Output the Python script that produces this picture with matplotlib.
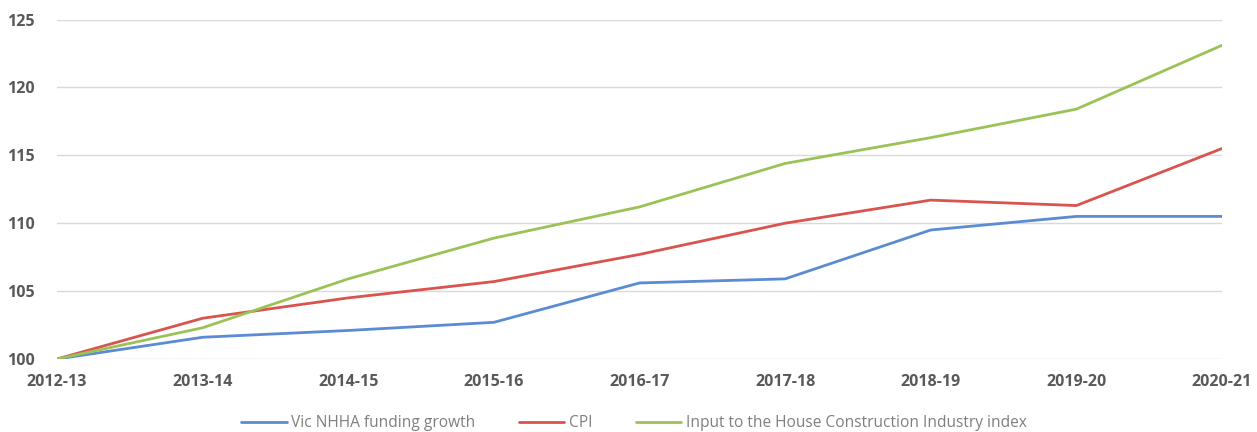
import matplotlib
matplotlib.use("Agg")
import matplotlib.pyplot as plt

years = ["2012-13", "2013-14", "2014-15", "2015-16", "2016-17",
         "2017-18", "2018-19", "2019-20", "2020-21"]
vic_nhha = [100, 101.6, 102.1, 102.7, 105.6, 105.9, 109.5, 110.5, 110.5]
cpi = [100, 103.0, 104.5, 105.7, 107.7, 110.0, 111.7, 111.3, 115.5]
house_ci = [100, 102.3, 105.9, 108.9, 111.2, 114.4, 116.3, 118.4, 123.1]
series_names = ["Vic NHHA funding growth", "CPI",
                "Input to the House Construction Industry index"]
y_ticks = [100, 105, 110, 115, 120, 125]

plt.rcParams['font.family'] = ['Open Sans', 'DejaVu Sans']

fig = plt.figure(figsize=(12.57, 4.32), dpi=100)
ax = fig.add_axes([57/1257, 1 - 359/432, (1222 - 57)/1257, (359 - 19.5)/432])

x = list(range(len(years)))
colors = ["#5B8BD3", "#D9534F", "#9BC257"]
for vals, name, c in zip([vic_nhha, cpi, house_ci], series_names, colors):
    ax.plot(x, vals, color=c, lw=2.0, label=name, solid_capstyle='round')

ax.set_xlim(0, len(years) - 1)
ax.set_ylim(100, 125)
ax.set_yticks(y_ticks)
ax.set_xticks(x)
ax.set_xticklabels(years)
ax.grid(axis='y', color='#D9D9D9', lw=1.0)
ax.set_axisbelow(True)
for s in ax.spines.values():
    s.set_visible(False)
ax.tick_params(length=0, colors='#595959', labelsize=11.5)
ax.tick_params(axis='x', pad=11)
ax.tick_params(axis='y', pad=16)
for lab in ax.get_xticklabels() + ax.get_yticklabels():
    lab.set_fontweight('bold')
    lab.set_color('#595959')

leg = fig.legend(loc='center', bbox_to_anchor=(634/1257, 1 - 423/432),
                 ncol=3, frameon=False, fontsize=11.2, handlelength=2.9,
                 columnspacing=2.8, handletextpad=0.3)
for t in leg.get_texts():
    t.set_color('#7F7F7F')

fig.savefig("out.png", dpi=100)
